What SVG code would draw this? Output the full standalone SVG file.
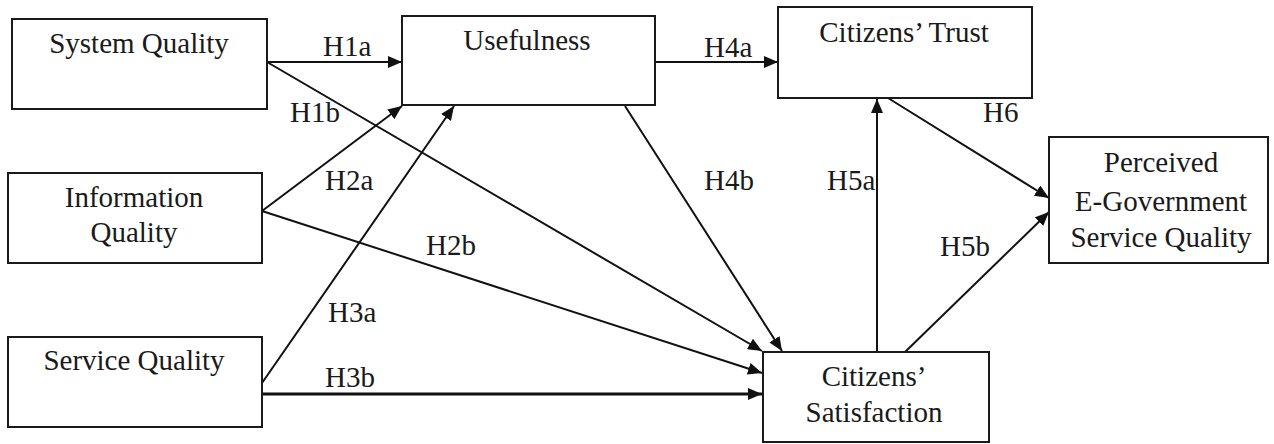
<svg xmlns="http://www.w3.org/2000/svg" width="1274" height="444" viewBox="0 0 1274 444">
<style>
.box{fill:#fff;stroke:#1a1a1a;stroke-width:2}
.t{font-family:"Liberation Serif","Times New Roman",serif;font-size:29px;fill:#1a1a1a;text-anchor:middle}
.lbl{font-family:"Liberation Serif","Times New Roman",serif;font-size:29px;fill:#1a1a1a}
.c{stroke:#111;stroke-width:2;fill:none;marker-end:url(#ah)}
</style>
<defs>
<marker id="ah" markerUnits="userSpaceOnUse" markerWidth="14" markerHeight="12" refX="14" refY="6" orient="auto">
<path d="M0,0 L14,6 L0,12 Z" fill="#111"/>
</marker>
</defs>
<rect width="1274" height="444" fill="#fff"/>
<g id="connectors">
<line class="c" x1="267" y1="62" x2="402" y2="62"/>
<line class="c" x1="267" y1="62" x2="762" y2="351"/>
<line class="c" x1="262" y1="211" x2="402" y2="106"/>
<line class="c" x1="262" y1="211" x2="762" y2="373"/>
<line class="c" x1="262" y1="383" x2="454" y2="106"/>
<line class="c" x1="262" y1="394" x2="762" y2="394" style="stroke-width:3"/>
<line class="c" x1="655" y1="62" x2="778" y2="62"/>
<line class="c" x1="625" y1="106" x2="782" y2="351"/>
<line class="c" x1="877" y1="352" x2="877" y2="99"/>
<line class="c" x1="905" y1="352" x2="1049" y2="212"/>
<line class="c" x1="888" y1="98" x2="1049" y2="198"/>
<g id="labels">
<text class="lbl" x="323" y="56">H1a</text>
<text class="lbl" x="290" y="122">H1b</text>
<text class="lbl" x="325" y="190">H2a</text>
<text class="lbl" x="426" y="255">H2b</text>
<text class="lbl" x="328" y="322">H3a</text>
<text class="lbl" x="325" y="387">H3b</text>
<text class="lbl" x="704" y="57">H4a</text>
<text class="lbl" x="704" y="190">H4b</text>
<text class="lbl" x="827" y="190">H5a</text>
<text class="lbl" x="940" y="256">H5b</text>
<text class="lbl" x="983" y="122">H6</text>
</g>
</g>
<g id="system-quality">
<rect class="box" x="12" y="19" width="255" height="90"/>
<text class="t" x="139" y="53">System Quality</text>
</g>
<g id="information-quality">
<rect class="box" x="8" y="173" width="254" height="90"/>
<text class="t" x="134" y="207">Information</text>
<text class="t" x="134" y="242">Quality</text>
</g>
<g id="service-quality">
<rect class="box" x="8" y="337" width="254" height="90"/>
<text class="t" x="134" y="370">Service Quality</text>
</g>
<g id="usefulness">
<rect class="box" x="402" y="16" width="253" height="89"/>
<text class="t" x="527" y="50">Usefulness</text>
</g>
<g id="citizens-trust">
<rect class="box" x="778" y="7" width="254" height="91"/>
<text class="t" x="904" y="42">Citizens’ Trust</text>
</g>
<g id="citizens-satisfaction">
<rect class="box" x="763" y="352" width="226" height="90"/>
<text class="t" x="874" y="386">Citizens’</text>
<text class="t" x="874" y="422">Satisfaction</text>
</g>
<g id="perceived-quality">
<rect class="box" x="1049" y="137" width="219" height="126"/>
<text class="t" x="1161" y="172">Perceived</text>
<text class="t" x="1161" y="211">E-Government</text>
<text class="t" x="1161" y="247">Service Quality</text>
</g>
</svg>
